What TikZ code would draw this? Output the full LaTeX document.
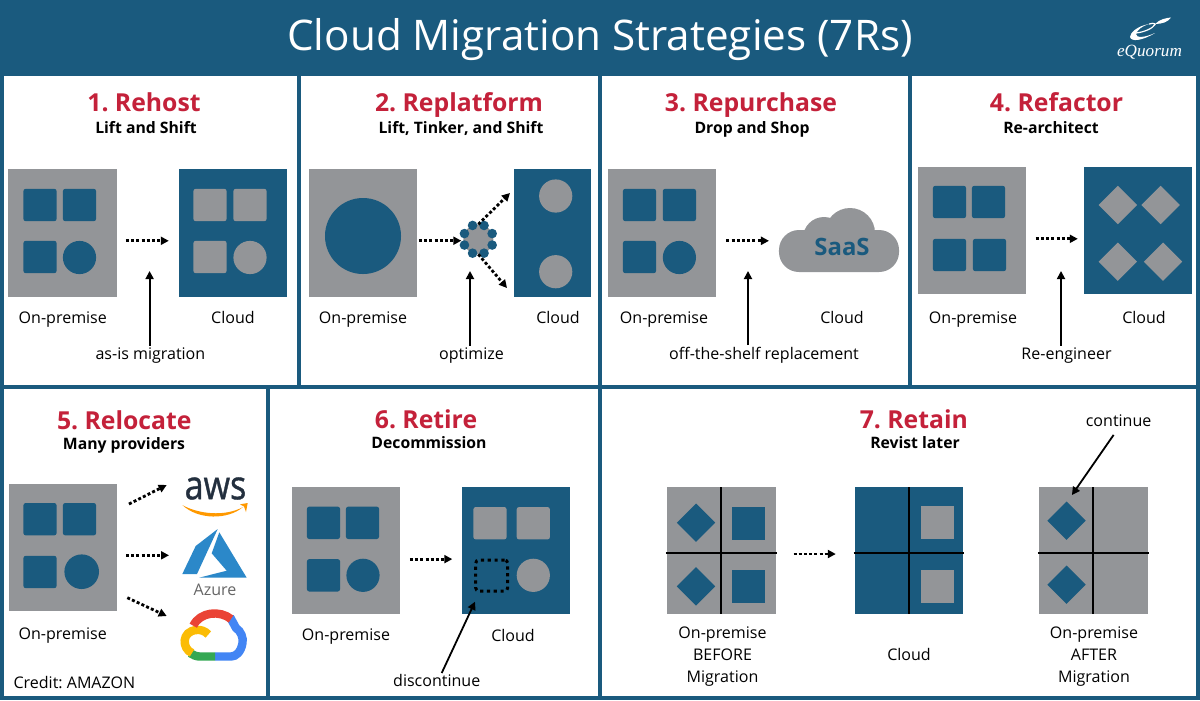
\documentclass[tikz,border=0pt]{standalone}
\usepackage{fontspec}
\setmainfont{Open Sans}
\newfontfamily\logofont{Liberation Serif}
\newfontfamily\awsfont[FakeBold=1]{Open Sans}
\usetikzlibrary{arrows.meta,shapes.geometric}
\definecolor{Navy}{HTML}{1A5A7E}
\definecolor{Stone}{HTML}{939598}
\definecolor{Crimson}{HTML}{C4213A}
\definecolor{AwsInk}{HTML}{232F3E}
\definecolor{Amber}{HTML}{FF9900}
\definecolor{AzureBlue}{HTML}{2B88C9}
\definecolor{AzureInk}{HTML}{666666}
\definecolor{GBlue}{HTML}{4285F4}
\definecolor{GGreen}{HTML}{34A853}
\definecolor{GYellow}{HTML}{FBBC05}
\definecolor{GRed}{HTML}{EA4335}
\tikzset{
  premisebox/.style={rectangle,fill=Stone,minimum width=2.71cm,minimum height=3.18cm,inner sep=0,outer sep=0},
  cloudbox/.style={rectangle,fill=Navy,minimum width=2.71cm,minimum height=3.18cm,inner sep=0,outer sep=0},
  tile/.style={rectangle,rounded corners=.06cm,fill=#1,minimum width=.83cm,minimum height=.81cm,inner sep=0,outer sep=0},
  sqtile/.style={rectangle,fill=#1,minimum width=.83cm,minimum height=.83cm,inner sep=0,outer sep=0},
  disc/.style={circle,fill=#1,minimum size=.83cm,inner sep=0,outer sep=0},
  gem/.style={diamond,aspect=1,fill=#1,minimum size=.96cm,inner sep=0,outer sep=0},
  heading/.style={anchor=mid,yshift=-.125cm,text=Crimson,font=\fontsize{17.6}{20}\selectfont\bfseries},
  subheading/.style={anchor=mid,yshift=-.075cm,text=black,font=\fontsize{11.2}{13}\selectfont\bfseries},
  caption/.style={anchor=mid,yshift=-.075cm,text=black,inner sep=.05cm,font=\fontsize{11.4}{14}\selectfont},
  dotarrow/.style={-{Triangle[length=.2cm,width=.2cm]},draw=black,line width=.07cm,dash pattern=on .075cm off .055cm},
  leader/.style={-{Triangle[length=.2cm,width=.2cm]},draw=black,line width=.045cm},
  gap/.style 2 args={shorten <=#1*.025cm,shorten >=#2*.025cm},
  crossline/.style={draw=black,line width=.05cm},
  gcloud/.style={line width=.21cm,line cap=butt}
}
\begin{document}
\frenchspacing
\begin{tikzpicture}[x=.025cm,y=-.025cm]
  \useasboundingbox (0,0) rectangle (1200,700);
  \fill[Navy] (0,0) rectangle (1200,700);
  \foreach \xa/\ya/\xb/\yb in {4/76/297/385,301/76/598/385,602/76/908/385,912/76/1196/385,
      4/389/266/696,270/389/598/696,602/389/1196/696}
    \fill[white] (\xa,\ya) rectangle (\xb,\yb);
  \node[text=white,font=\fontsize{30}{36}\selectfont] (title) at (600,40) {Cloud Migration Strategies (7Rs)};
  % logo
  \fill[white] (1149,24) .. controls (1137,26) and (1130,33) .. (1130,37) .. controls (1131,42) and (1142,41) .. (1155,33)
    .. controls (1144,38) and (1136,38) .. (1136,34) .. controls (1137,30) and (1142,26) .. (1149,24) -- cycle;
  \draw[white,line width=.03cm] (1136,33) .. controls (1145,32) and (1153,28) .. (1155,24.5) .. controls (1155,23) and (1151,23) .. (1149,24);
  \fill[white] (1155,24) .. controls (1160,19) and (1166,18) .. (1171,17.5) .. controls (1168,22) and (1162,24) .. (1155,24) -- cycle;
  \node[text=white,font=\logofont\itshape\fontsize{12.2}{13}\selectfont] (logo) at (1149.5,52) {eQuorum};

  % 1
  \node[heading] (head1) at (144,102.7) {1. Rehost};
  \node[subheading] (sub1) at (146,127) {Lift and Shift};
  \node[premisebox] (prem1) at (62.7,233) {};
  \node[cloudbox] (cloud1) at (233,233) {};
  \node[tile=Navy] (p1a) at (40,205) {};
  \node[tile=Navy] (p1b) at (79.5,205) {};
  \node[tile=Navy] (p1c) at (40,257) {};
  \node[disc=Navy] (p1d) at (79.5,257.5) {};
  \node[tile=Stone] (c1a) at (210,205) {};
  \node[tile=Stone] (c1b) at (250,205) {};
  \node[tile=Stone] (c1c) at (210,257) {};
  \node[disc=Stone] (c1d) at (250,257.5) {};
  \node[caption] (lab1a) at (62.8,317) {On-premise};
  \node[caption] (lab1b) at (233,317) {Cloud};
  \node[caption] (mig1) at (150.4,353) {as-is migration};
  \coordinate (tip1) at (149.6,271);
  \draw[dotarrow,gap={9}{10}] (prem1.east |- p1c.north) -- (cloud1.west |- p1c.north);
  \draw[leader] (mig1.north -| tip1) -- (tip1);

  % 2
  \node[heading] (head2) at (459,102.7) {2. Replatform};
  \node[subheading] (sub2) at (461,127) {Lift, Tinker, and Shift};
  \node[premisebox] (prem2) at (363.2,233) {};
  \node[cloudbox,minimum width=1.93cm] (cloud2) at (552.3,233) {};
  \node[disc=Navy,minimum size=1.9cm] (big2) at (363,236) {};
  \node[disc=Stone] (c2a) at (555.7,196) {};
  \node[disc=Stone] (c2b) at (555.7,271.7) {};
  \node[disc=Stone,minimum size=.75cm] (ring2) at (478.3,239.3) {};
  \begin{scope}[shift={(478.3,239.3)}]
    \foreach \ang in {22.5,67.5,...,337.5}
      \node[disc=Navy,minimum size=.24cm] (dot\ang) at (\ang:15) {};
  \end{scope}
  \node[caption] (lab2a) at (363,317) {On-premise};
  \node[caption] (lab2b) at (558,317) {Cloud};
  \node[caption] (mig2) at (471.5,353) {optimize};
  \coordinate (tip2) at (470,271);
  \coordinate (up2) at (510,193);
  \coordinate (down2) at (507,288);
  \coordinate (mid2) at (440,240.7);
  \draw[dotarrow,gap={1.5}{2}] (prem2.east |- mid2) -- (ring2.west |- mid2);
  \draw[dotarrow] (ring2.north) -- (up2);
  \draw[dotarrow] (ring2.south) -- (down2);
  \draw[leader] (mig2.north -| tip2) -- (tip2);

  % 3
  \node[heading] (head3) at (751,102.7) {3. Repurchase};
  \node[subheading] (sub3) at (752,126.5) {Drop and Shop};
  \node[premisebox] (prem3) at (662.2,233) {};
  \node[tile=Navy] (p3a) at (639.5,205) {};
  \node[tile=Navy] (p3b) at (679.4,205) {};
  \node[tile=Navy] (p3c) at (639.5,257) {};
  \node[disc=Navy] (p3d) at (679.4,257.5) {};
  \node[rectangle,rounded corners=.5cm,fill=Stone,minimum width=3cm,minimum height=1.05cm,inner sep=0,outer sep=0] (base3) at (839,251) {};
  \node[disc=Stone,minimum size=1.25cm] (puff3a) at (850,233) {};
  \node[disc=Stone,minimum size=1.05cm] (puff3b) at (824,238) {};
  \node[text=Navy,font=\fontsize{17}{20}\selectfont\bfseries] (saas3) at (842,246.5) {SaaS};
  \node[caption] (lab3a) at (664,317) {On-premise};
  \node[caption] (lab3b) at (842,317) {Cloud};
  \node[caption] (mig3) at (764,353) {off-the-shelf replacement};
  \coordinate (tip3) at (748,271);
  \draw[dotarrow,gap={10}{10}] (prem3.east |- p3c.north) -- (base3.west |- p3c.north);
  \draw[leader] (mig3.north -| tip3) -- (tip3);

  % 4
  \node[heading] (head4) at (1056.5,102.7) {4. Refactor};
  \node[subheading] (sub4) at (1051,127) {Re-architect};
  \node[premisebox] (prem4) at (972,230.4) {};
  \node[cloudbox] (cloud4) at (1138,230.4) {};
  \node[tile=Navy] (p4a) at (949.5,202) {};
  \node[tile=Navy] (p4b) at (988.5,202) {};
  \node[tile=Navy] (p4c) at (949.5,255) {};
  \node[tile=Navy] (p4d) at (989.5,255) {};
  \node[gem=Stone] (c4a) at (1117.8,205) {};
  \node[gem=Stone] (c4b) at (1160.6,205) {};
  \node[gem=Stone] (c4c) at (1117.8,261.7) {};
  \node[gem=Stone] (c4d) at (1163,261.7) {};
  \node[caption] (lab4a) at (973,317) {On-premise};
  \node[caption] (lab4b) at (1144,317) {Cloud};
  \node[caption] (mig4) at (1066.5,353) {Re-engineer};
  \coordinate (tip4) at (1061,271);
  \draw[dotarrow,gap={9.5}{6}] (prem4.east |- p4c.north) -- (cloud4.west |- p4c.north);
  \draw[leader] (mig4.north -| tip4) -- (tip4);

  % 5
  \node[heading] (head5) at (124.3,421) {5. Relocate};
  \node[subheading] (sub5) at (124,442.3) {Many providers};
  \node[premisebox] (prem5) at (62.8,547.5) {};
  \node[tile=Navy] (p5a) at (40,519.2) {};
  \node[tile=Navy] (p5b) at (79.5,519.2) {};
  \node[tile=Navy] (p5c) at (40,572) {};
  \node[disc=Navy,minimum size=.865cm] (p5d) at (81.7,571.7) {};
  \node[caption] (lab5a) at (62.7,632.7) {On-premise};
  \node[caption,anchor=mid west,inner sep=0] (credit) at (13.3,682) {Credit: AMAZON};
  % providers
  \node[text=AwsInk,inner sep=0,font=\awsfont\fontsize{28.5}{32}\selectfont] (aws) at (215.5,488.5) {\scalebox{.85}[1]{aws}};
  \fill[Amber] (182.3,505) .. controls (198,514) and (225,517) .. (243,507) .. controls (228,520) and (198,520) .. (182.3,505) -- cycle;
  \fill[Amber] (240,504.3) -- (247.7,503) -- (246,512) -- (244,506.5) -- cycle;
  \fill[AzureBlue] (219.3,532.3) -- (211.7,553.3) -- (226.7,570.7) -- (199,577.7) -- (246.7,577.7) -- cycle;
  \fill[AzureBlue] (217.7,529) -- (195.7,546) -- (182.3,574) -- (197,574) -- cycle;
  \node[text=AzureInk,inner sep=0,font=\fontsize{11.4}{12}\selectfont] (azure) at (215,590) {Azure};
  \draw[gcloud,GBlue] (230,617) -- (236,628) .. controls (241,631) and (243.5,638) .. (242.5,643) .. controls (241,652) and (236,656.5) .. (231,656.5) -- (215,656.5);
  \draw[gcloud,GGreen] (215,656.5) -- (200,656.5) .. controls (196,656.5) and (193,655) .. (190,653);
  \draw[gcloud,GYellow] (192,653) .. controls (182,649) and (181,631) .. (196.7,630) .. controls (201,629.5) and (205,631) .. (208.3,634.5);
  \draw[gcloud,GRed] (193.3,625.7) .. controls (200,611.7) and (220,610) .. (231,619);
  \coordinate (tail5a) at (129,504);
  \coordinate (tip5a) at (166.7,485);
  \coordinate (tail5b) at (126,555.3);
  \coordinate (tip5b) at (169,555.3);
  \coordinate (tail5c) at (127.3,597.7);
  \coordinate (tip5c) at (166.7,616);
  \draw[dotarrow] (tail5a) -- (tip5a);
  \draw[dotarrow] (tail5b) -- (tip5b);
  \draw[dotarrow] (tail5c) -- (tip5c);

  % 6
  \node[heading] (head6) at (426,420) {6. Retire};
  \node[subheading] (sub6) at (429,442) {Decommission};
  \node[premisebox] (prem6) at (346,550.8) {};
  \node[cloudbox] (cloud6) at (516.2,550.8) {};
  \node[tile=Navy] (p6a) at (323.5,522.8) {};
  \node[tile=Navy] (p6b) at (362.5,522.8) {};
  \node[tile=Navy] (p6c) at (323.5,575.3) {};
  \node[disc=Navy] (p6d) at (363,575.3) {};
  \node[tile=Stone] (c6a) at (490,523.2) {};
  \node[tile=Stone] (c6b) at (533.3,523.2) {};
  \node[rectangle,rounded corners=.08cm,draw=black,line width=.075cm,dash pattern=on .08cm off .09cm,minimum width=.8cm,minimum height=.775cm,inner sep=0,outer sep=0] (gone6) at (491.7,575.5) {};
  \node[disc=Stone] (c6d) at (533.3,575.3) {};
  \node[caption] (lab6a) at (346,633.3) {On-premise};
  \node[caption] (lab6b) at (513,635) {Cloud};
  \node[caption] (mig6) at (436.7,679.7) {discontinue};
  \coordinate (tip6) at (475,601.7);
  \draw[dotarrow,gap={9.7}{9.7}] (prem6.east |- p6c.north) -- (cloud6.west |- p6c.north);
  \draw[leader] ([shift={(5,1)}]mig6.north) -- (tip6);

  % 7
  \node[heading] (head7) at (913.8,420) {7. Retain};
  \node[subheading] (sub7) at (915,442) {Revist later};
  \node[premisebox] (pre7) at (721.3,550.8) {};
  \node[cloudbox] (cld7) at (909,550.8) {};
  \node[premisebox] (aft7) at (1093.3,550.8) {};
  \node[gem=Navy] (pre7a) at (696,522.7) {};
  \node[gem=Navy] (pre7c) at (696,586.3) {};
  \node[sqtile=Navy] (pre7b) at (748.5,523.3) {};
  \node[sqtile=Navy] (pre7d) at (748.5,586.5) {};
  \node[sqtile=Stone] (cld7b) at (937.3,522.5) {};
  \node[sqtile=Stone] (cld7d) at (937.3,586.5) {};
  \node[gem=Navy] (aft7a) at (1066.5,520.7) {};
  \node[gem=Navy] (aft7c) at (1066.5,584.7) {};
  \foreach \bx in {pre7,cld7,aft7} {
    \draw[crossline] (\bx.north) -- (\bx.south);
    \draw[crossline,shorten <=-.03cm,shorten >=-.03cm] ([yshift=-.05cm]\bx.west) -- ([yshift=-.05cm]\bx.east);
  }
  \node[caption,align=center,anchor=north,font=\fontsize{11.4}{15.65}\selectfont] (lab7a) at (722.5,621) {On-premise\\BEFORE\\Migration};
  \node[caption] (lab7b) at (909,654) {Cloud};
  \node[caption,align=center,anchor=north,font=\fontsize{11.4}{15.65}\selectfont] (lab7c) at (1094,621) {On-premise\\AFTER\\Migration};
  \node[caption] (cont7) at (1118.6,419.7) {continue};
  \coordinate (tip7) at (1071.9,495);
  \coordinate (mid7) at (700,554);
  \draw[dotarrow,gap={18}{19}] (pre7.east |- mid7) -- (cld7.west |- mid7);
  \draw[leader] ([shift={(-5,6)}]cont7.south) -- (tip7);
\end{tikzpicture}
\end{document}
